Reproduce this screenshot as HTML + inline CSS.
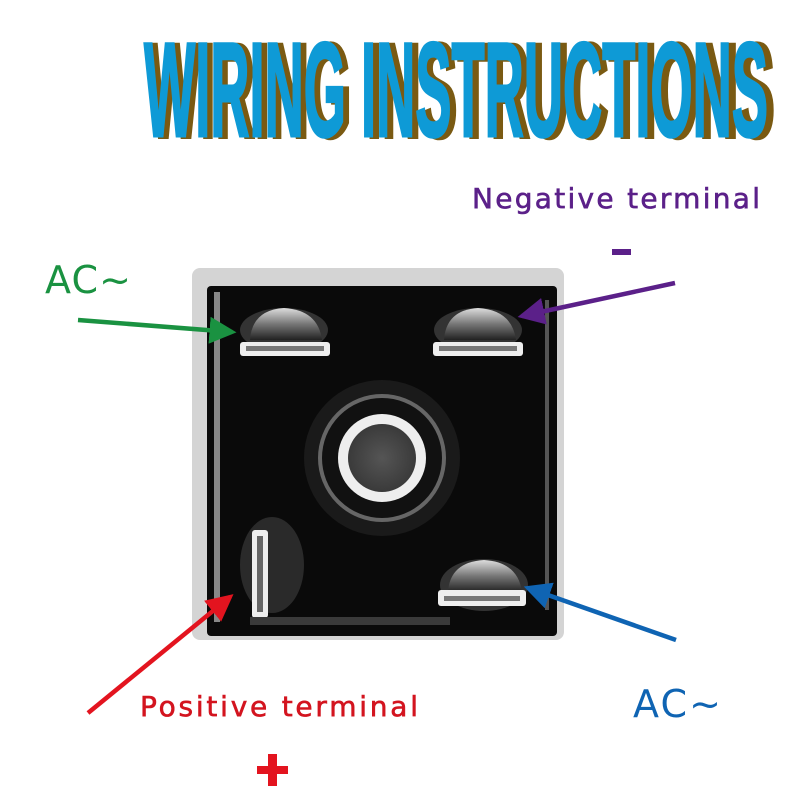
<!DOCTYPE html>
<html><head><meta charset="utf-8"><style>
html,body{margin:0;padding:0;background:#fff;width:800px;height:800px;overflow:hidden}
</style></head><body>
<svg width="800" height="800" viewBox="0 0 800 800" xmlns="http://www.w3.org/2000/svg">
<defs>
<radialGradient id="hole" cx="50%" cy="50%" r="50%">
<stop offset="0" stop-color="#555"/><stop offset="1" stop-color="#3a3a3a"/></radialGradient>
<linearGradient id="pad" x1="0" y1="0" x2="0" y2="1">
<stop offset="0" stop-color="#ddd"/><stop offset="0.5" stop-color="#777"/><stop offset="1" stop-color="#222"/></linearGradient>
<marker id="ag" markerWidth="6" markerHeight="6" refX="5" refY="3" orient="auto" markerUnits="strokeWidth"><path d="M0,0 L6,3 L0,6 z" fill="#1a9241"/></marker>
<marker id="ap" markerWidth="6" markerHeight="6" refX="5" refY="3" orient="auto" markerUnits="strokeWidth"><path d="M0,0 L6,3 L0,6 z" fill="#5b2089"/></marker>
<marker id="ar" markerWidth="6" markerHeight="6" refX="5" refY="3" orient="auto" markerUnits="strokeWidth"><path d="M0,0 L6,3 L0,6 z" fill="#e3141f"/></marker>
<marker id="ab" markerWidth="6" markerHeight="6" refX="5" refY="3" orient="auto" markerUnits="strokeWidth"><path d="M0,0 L6,3 L0,6 z" fill="#0f64b3"/></marker>
</defs>
<g font-family="Liberation Sans, sans-serif" font-weight="bold" font-size="134">
<text x="149" y="137" textLength="626" lengthAdjust="spacingAndGlyphs" fill="#7a5a12" stroke="#7a5a12" stroke-width="4">WIRING INSTRUCTIONS</text>
<text x="144" y="136" textLength="624" lengthAdjust="spacingAndGlyphs" fill="#0e9ad6" stroke="#0e9ad6" stroke-width="3">WIRING INSTRUCTIONS</text>
</g>
<rect x="192" y="268" width="372" height="372" rx="8" fill="#d4d4d4"/>
<rect x="207" y="286" width="350" height="350" rx="4" fill="#0a0a0a"/>
<rect x="214" y="292" width="6" height="330" fill="#888"/>
<rect x="545" y="300" width="4" height="310" fill="#555"/>
<ellipse cx="284" cy="330" rx="44" ry="22" fill="#333"/>
<path d="M250 340 Q252 310 284 308 Q318 310 322 340 z" fill="url(#pad)"/>
<rect x="240" y="342" width="90" height="14" rx="3" fill="#eee"/>
<rect x="246" y="346" width="78" height="5" fill="#777"/>
<ellipse cx="478" cy="330" rx="44" ry="22" fill="#333"/>
<path d="M444 340 Q446 310 478 308 Q512 310 516 340 z" fill="url(#pad)"/>
<rect x="433" y="342" width="90" height="14" rx="3" fill="#eee"/>
<rect x="439" y="346" width="78" height="5" fill="#777"/>
<circle cx="382" cy="458" r="78" fill="#1a1a1a"/>
<circle cx="382" cy="458" r="62" fill="#111" stroke="#666" stroke-width="4"/>
<circle cx="382" cy="458" r="44" fill="#eee"/>
<circle cx="382" cy="458" r="34" fill="url(#hole)"/>
<ellipse cx="272" cy="565" rx="32" ry="48" fill="#2a2a2a"/>
<rect x="252" y="530" width="16" height="88" rx="3" fill="#eee"/>
<rect x="257" y="536" width="6" height="76" fill="#666"/>
<ellipse cx="484" cy="585" rx="44" ry="26" fill="#333"/>
<path d="M448 592 Q450 562 484 560 Q518 562 522 592 z" fill="url(#pad)"/>
<rect x="438" y="590" width="88" height="16" rx="3" fill="#eee"/>
<rect x="444" y="596" width="76" height="5" fill="#777"/>
<rect x="250" y="617" width="200" height="8" fill="#3a3a3a"/>
<line x1="78" y1="320" x2="232" y2="332" stroke="#1a9241" stroke-width="4.5" marker-end="url(#ag)"/>
<line x1="675" y1="283" x2="522" y2="316" stroke="#5b2089" stroke-width="4.5" marker-end="url(#ap)"/>
<line x1="88" y1="713" x2="230" y2="597" stroke="#e3141f" stroke-width="4.5" marker-end="url(#ar)"/>
<line x1="676" y1="640" x2="528" y2="588" stroke="#0f64b3" stroke-width="4.5" marker-end="url(#ab)"/>
<g font-family="DejaVu Sans, sans-serif">
<text x="45" y="293" font-size="38" fill="#1a9241" textLength="86" lengthAdjust="spacing">AC~</text>
<text x="472" y="208" font-size="28" fill="#5b2089" textLength="288" lengthAdjust="spacing" stroke="#5b2089" stroke-width="0.6">Negative terminal</text>
<text x="140" y="716" font-size="28" fill="#d3141f" textLength="278" lengthAdjust="spacing" stroke="#d3141f" stroke-width="0.6">Positive terminal</text>
<text x="633" y="717" font-size="38" fill="#0f64b3" textLength="88" lengthAdjust="spacing">AC~</text>
</g>
<rect x="612" y="249" width="19" height="6" fill="#5b2089"/>
<rect x="257" y="766" width="31" height="8" fill="#e3141f"/>
<rect x="268" y="754" width="9" height="32" fill="#e3141f"/>
</svg>
</body></html>
